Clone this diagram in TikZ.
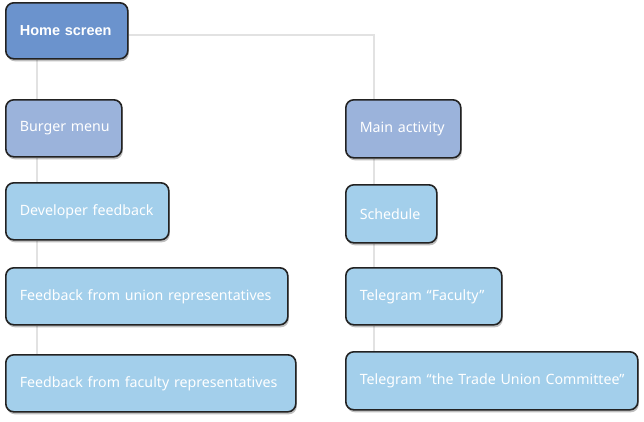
\documentclass[tikz,border=0pt]{standalone}
\usepackage{fontspec}
\setmainfont{Noto Sans}
\newfontfamily\homefont{Liberation Sans}
\usetikzlibrary{shadows,backgrounds}
\definecolor{homec}{HTML}{6B93CD}
\definecolor{midc}{HTML}{9BB3DB}
\definecolor{leafc}{HTML}{A3CFEB}
\definecolor{linec}{HTML}{E2E2E2}
\definecolor{edgec}{HTML}{222222}
\tikzset{
  box/.style={draw=edgec, line width=1.6pt, rounded corners=8pt, anchor=north west,
    text=white, align=left, inner xsep=14pt, inner ysep=0pt, minimum height=#1,
    font=\fontsize{14.2}{16}\selectfont,
    drop shadow={shadow xshift=1pt, shadow yshift=-2.5pt, opacity=0.25, fill=black}},
  box/.default=57pt,
  conn/.style={draw=linec, line width=2pt}
}
\begin{document}
\begin{tikzpicture}[x=1pt,y=-1pt]
\useasboundingbox (0,0) rectangle (644,421);
\node[box=56pt, fill=homec, text width=94pt] (home) at (5,2) {\mbox{\homefont\bfseries\fontsize{14.5}{16}\selectfont Home screen}};
\node[box, fill=midc, text width=88pt] (burger) at (5,99) {\mbox{Burger menu}};
\node[box, fill=leafc, text width=135pt] (dev) at (5,182) {\mbox{Developer feedback}};
\node[box, fill=leafc, text width=254pt] (union) at (5,267) {\mbox{Feedback from union representatives}};
\node[box, fill=leafc, text width=262pt] (faculty) at (5,354) {\mbox{Feedback from faculty representatives}};
\node[box=58pt, fill=midc, text width=87pt] (main) at (345,99) {\mbox{Main activity}};
\node[box=58pt, fill=leafc, text width=63pt] (sched) at (345,184) {\mbox{Schedule}};
\node[box, fill=leafc, text width=128pt] (tfac) at (345,267) {\mbox{Telegram “Faculty”}};
\node[box=58pt, fill=leafc, text width=264pt] (ttuc) at (345,351) {\mbox{Telegram “the Trade Union Committee”}};
\begin{scope}[on background layer]
\draw[conn] ([xshift=32pt]home.south west) -- ([xshift=32pt]burger.north west);
\draw[conn] ([xshift=32pt]burger.south west) -- ([xshift=32pt]dev.north west);
\draw[conn] ([xshift=32pt]dev.south west) -- ([xshift=32pt]union.north west);
\draw[conn] ([xshift=32pt]union.south west) -- ([xshift=32pt]faculty.north west);
\draw[conn] ([yshift=-4pt]home.east) -| ([xshift=29pt]main.north west);
\draw[conn] ([xshift=29pt]main.south west) -- ([xshift=29pt]sched.north west);
\draw[conn] ([xshift=29pt]sched.south west) -- ([xshift=29pt]tfac.north west);
\draw[conn] ([xshift=29pt]tfac.south west) -- ([xshift=29pt]ttuc.north west);
\end{scope}
\end{tikzpicture}
\end{document}
